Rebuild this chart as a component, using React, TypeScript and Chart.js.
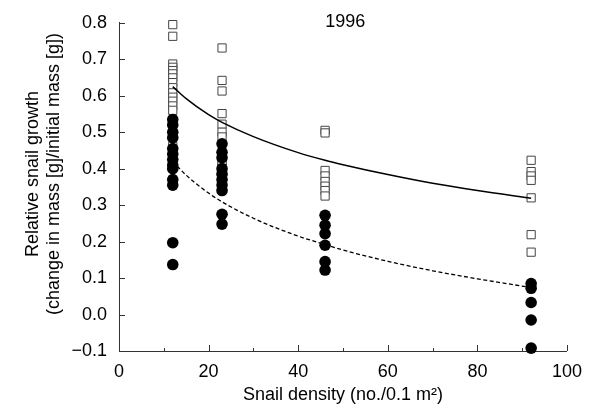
import React, { useEffect, useRef } from 'react';
import { Chart, registerables } from 'chart.js';

Chart.register(...registerables);

// Snail densities (no./0.1 m^2)
const densities = [12, 23, 46, 92];

// Open squares (upper group) per density
const squares12 = [0.795, 0.763, 0.687, 0.678, 0.669, 0.66, 0.649, 0.636, 0.622, 0.608, 0.596, 0.585, 0.572, 0.56, 0.462];
const squares23 = [0.731, 0.642, 0.613, 0.551, 0.522, 0.5, 0.487, 0.42, 0.41, 0.4];
const squares46 = [0.505, 0.498, 0.395, 0.38, 0.365, 0.352, 0.34, 0.325];
const squares92 = [0.423, 0.392, 0.38, 0.368, 0.32, 0.219, 0.171];

// Filled circles (lower group) per density
const circles12 = [0.535, 0.52, 0.5, 0.485, 0.455, 0.44, 0.425, 0.41, 0.4, 0.37, 0.355, 0.197, 0.137];
const circles23 = [0.468, 0.445, 0.43, 0.4, 0.385, 0.37, 0.355, 0.34, 0.275, 0.248];
const circles46 = [0.272, 0.245, 0.222, 0.19, 0.145, 0.122];
const circles92 = [0.085, 0.072, 0.033, -0.015, -0.092];

// Fitted curves
const curveX = [12, 15, 20, 23, 30, 40, 46, 50, 60, 70, 80, 92];
const solidCurveY = [0.625, 0.592, 0.548, 0.527, 0.488, 0.444, 0.423, 0.411, 0.384, 0.36, 0.34, 0.319];
const dashedCurveY = [0.42, 0.382, 0.333, 0.309, 0.264, 0.215, 0.192, 0.177, 0.146, 0.12, 0.098, 0.074];

// Axis ticks
const xTickValues = [0, 20, 40, 60, 80, 100];
const xMinorTicks = [10, 30, 50, 70, 90];
const yTickValues = [-0.1, 0, 0.1, 0.2, 0.3, 0.4, 0.5, 0.6, 0.7, 0.8];

const yTitleLines = ['Relative snail growth', '(change in mass [g]/initial mass [g])'];
const xTitle = 'Snail density (no./0.1 m\u00B2)';
const yearLabel = '1996';

const FONT = '"Liberation Sans", Arial, Helvetica, sans-serif';

const toPoints = (groups: number[][]) =>
  groups.flatMap((vals, i) => vals.map((v) => ({ x: densities[i], y: v })));

export default function App() {
  const canvasRef = useRef<HTMLCanvasElement | null>(null);

  useEffect(() => {
    document.body.style.margin = '0';
    const canvas = canvasRef.current;
    if (!canvas) return;

    const overlay = {
      id: 'overlay',
      afterDraw(chart: any) {
        const { ctx, chartArea } = chart;
        const x = chart.scales.x;
        const y = chart.scales.y;
        ctx.save();
        ctx.strokeStyle = '#333';
        ctx.lineWidth = 1;
        ctx.beginPath();
        for (const v of xTickValues) {
          if (v === 0) continue;
          const px = Math.round(x.getPixelForValue(v)) + 0.5;
          ctx.moveTo(px, chartArea.bottom);
          ctx.lineTo(px, chartArea.bottom - 6);
        }
        for (const v of xMinorTicks) {
          const px = Math.round(x.getPixelForValue(v)) + 0.5;
          ctx.moveTo(px, chartArea.bottom);
          ctx.lineTo(px, chartArea.bottom - 3);
        }
        for (const v of yTickValues) {
          if (v === -0.1) continue;
          const py = Math.round(y.getPixelForValue(v)) + 0.5;
          ctx.moveTo(chartArea.left, py);
          ctx.lineTo(chartArea.left + 6, py);
        }
        ctx.stroke();

        ctx.fillStyle = '#000';
        ctx.font = `18px ${FONT}`;
        ctx.textAlign = 'center';
        ctx.textBaseline = 'middle';
        ctx.fillText(yearLabel, x.getPixelForValue(50.5), chartArea.top - 1);

        ctx.translate(33, 174);
        ctx.rotate(-Math.PI / 2);
        yTitleLines.forEach((line, i) => ctx.fillText(line, 0, i * 21));
        ctx.restore();
      },
    };

    const chart = new Chart(canvas, {
      type: 'scatter',
      data: {
        datasets: [
          {
            label: 'circles',
            data: toPoints([circles12, circles23, circles46, circles92]),
            pointStyle: 'circle',
            pointRadius: 5.8,
            backgroundColor: '#000',
            borderColor: '#000',
            borderWidth: 0,
            clip: false,
            order: 1,
          } as any,
          {
            label: 'squares',
            data: toPoints([squares12, squares23, squares46, squares92]),
            pointStyle: 'rect',
            pointRadius: 5.8,
            backgroundColor: '#fff',
            borderColor: '#444',
            borderWidth: 1,
            clip: false,
            order: 3,
          } as any,
          {
            label: 'solid fit',
            type: 'line',
            data: curveX.map((v, i) => ({ x: v, y: solidCurveY[i] })),
            showLine: true,
            borderColor: '#000',
            borderWidth: 1.5,
            pointRadius: 0,
            cubicInterpolationMode: 'monotone',
            fill: false,
            order: 2,
          } as any,
          {
            label: 'dashed fit',
            type: 'line',
            data: curveX.map((v, i) => ({ x: v, y: dashedCurveY[i] })),
            showLine: true,
            borderColor: '#000',
            borderWidth: 1.3,
            borderDash: [4, 2.5],
            pointRadius: 0,
            cubicInterpolationMode: 'monotone',
            fill: false,
            order: 2,
          } as any,
        ],
      },
      options: {
        animation: false,
        responsive: true,
        maintainAspectRatio: false,
        layout: { padding: { top: 22, right: 19.5, left: 0, bottom: 0 } },
        plugins: {
          legend: { display: false },
          tooltip: { enabled: false },
          title: { display: false },
        },
        scales: {
          x: {
            type: 'linear',
            min: 0,
            max: 100,
            afterBuildTicks: (s: any) => {
              s.ticks = xTickValues.map((v) => ({ value: v }));
            },
            afterFit: (s: any) => {
              s.height = 62;
            },
            grid: { display: true, drawOnChartArea: false, drawTicks: false },
            border: { display: true, color: '#333', width: 1 },
            ticks: {
              color: '#000',
              padding: 10,
              maxRotation: 0,
              font: { family: FONT, size: 18 },
              callback: (v: any) => String(v),
            },
            title: {
              display: true,
              text: xTitle,
              color: '#000',
              font: { family: FONT, size: 18 },
              padding: { top: 0, bottom: 7 },
            },
          },
          y: {
            type: 'linear',
            min: -0.1,
            max: 0.8,
            afterBuildTicks: (s: any) => {
              s.ticks = yTickValues.map((v) => ({ value: v }));
            },
            afterFit: (s: any) => {
              s.width = 119;
            },
            grid: { display: true, drawOnChartArea: false, drawTicks: false },
            border: { display: true, color: '#333', width: 1 },
            ticks: {
              color: '#000',
              padding: 12,
              font: { family: FONT, size: 18 },
              callback: (v: any) => {
                const n = Number(v);
                if (Math.abs(n) < 1e-9) return '0.0';
                return n < 0 ? '\u2212' + Math.abs(n).toFixed(1) : n.toFixed(1);
              },
            },
          },
        },
      },
      plugins: [overlay],
    });

    return () => chart.destroy();
  }, []);

  return (
    <div style={{ width: 592, height: 413, position: 'relative', background: '#fff' }}>
      <canvas ref={canvasRef} />
    </div>
  );
}
